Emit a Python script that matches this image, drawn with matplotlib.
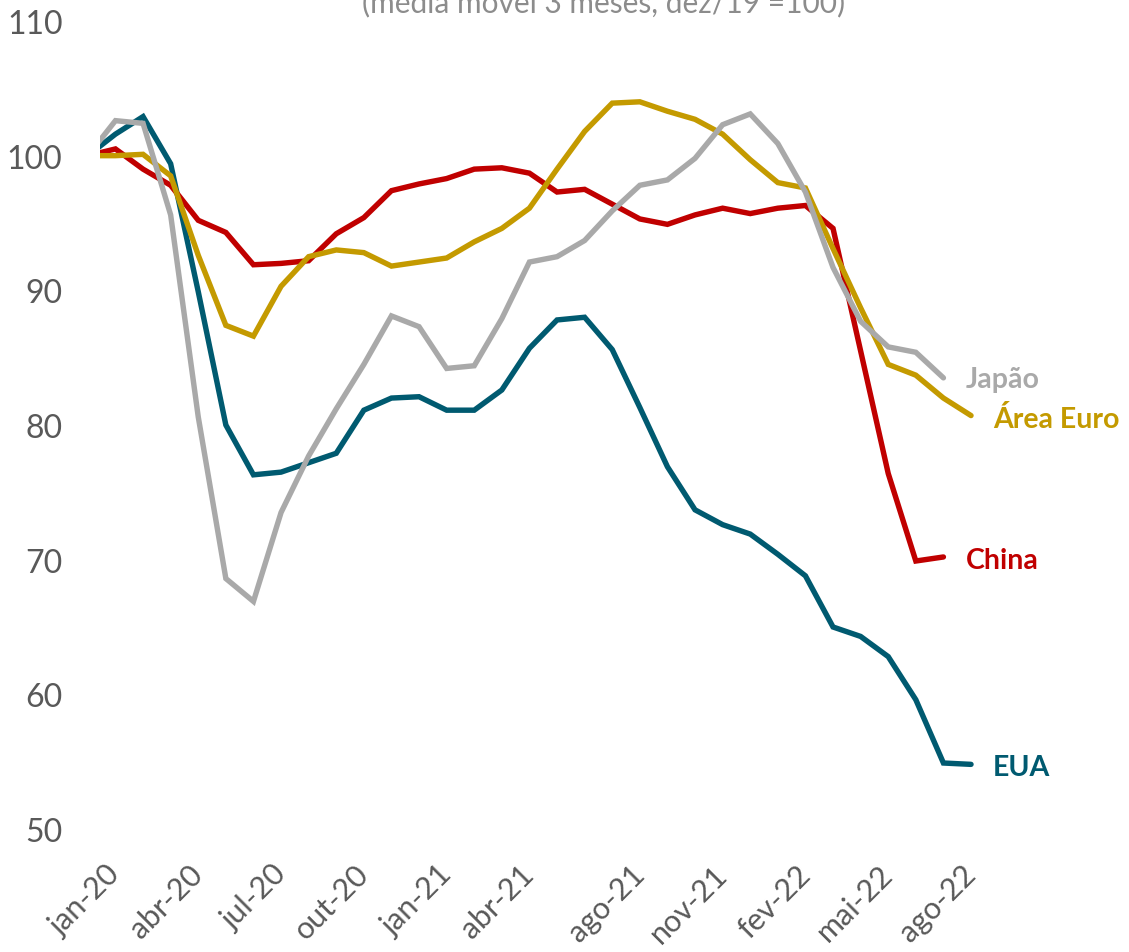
import numpy as np
import matplotlib.pyplot as plt

plt.rcParams['font.family'] = ['Lato', 'DejaVu Sans']

# months from dez-19 (index -1, base = 100) to ago-22 (index 31)
months = np.arange(-1, 32)
nan = np.nan

eua = [100.0, 101.6, 102.9, 99.4, 89.9, 80.0, 76.3, 76.5, 77.2, 77.9, 81.1,
       82.0, 82.1, 81.1, 81.1, 82.6, 85.7, 87.8, 88.0, 85.6, 81.3, 76.9,
       73.7, 72.6, 71.9, 70.4, 68.8, 65.0, 64.3, 62.8, 59.6, 54.9, 54.8]
china = [100.0, 100.5, 99.0, 97.8, 95.2, 94.3, 91.9, 92.0, 92.2, 94.2, 95.4,
         97.4, 97.9, 98.3, 99.0, 99.1, 98.7, 97.3, 97.5, 96.4, 95.3, 94.9,
         95.6, 96.1, 95.7, 96.1, 96.3, 94.6, 85.5, 76.4, 69.9, 70.2, nan]
area_euro = [100.0, 100.0, 100.1, 98.5, 92.6, 87.4, 86.6, 90.3, 92.5, 93.0, 92.8,
             91.8, 92.1, 92.4, 93.6, 94.6, 96.1, 99.0, 101.8, 103.9, 104.0, 103.3,
             102.7, 101.6, 99.7, 98.0, 97.6, 93.1, 88.7, 84.5, 83.7, 82.0, 80.7]
japao = [100.0, 102.6, 102.4, 95.6, 80.6, 68.6, 66.9, 73.5, 77.7, 81.2, 84.5,
         88.1, 87.3, 84.2, 84.4, 87.9, 92.1, 92.5, 93.7, 95.9, 97.8, 98.2,
         99.8, 102.3, 103.1, 100.9, 97.3, 91.7, 87.7, 85.8, 85.4, 83.5, nan]

tick_pos = [0, 3, 6, 9, 12, 15, 19, 22, 25, 28, 31]
tick_labels = ['jan-20', 'abr-20', 'jul-20', 'out-20', 'jan-21', 'abr-21',
               'ago-21', 'nov-21', 'fev-22', 'mai-22', 'ago-22']

series = [
    ('EUA', eua, '#005a70', (31.8, 54.6)),
    ('China', china, '#c00000', (30.8, 70.0)),
    ('Área Euro', area_euro, '#c49a00', (31.8, 80.5)),
    ('Japão', japao, '#a9a9a9', (30.8, 83.4)),
]

fig = plt.figure(figsize=(11.29, 9.53), dpi=100)
ax = fig.add_axes([100 / 1129, 123 / 953, 900 / 1129, 808 / 953])

for name, values, color, (lx, ly) in series:
    ax.plot(months, values, color=color, lw=3.9, solid_joinstyle='miter',
            solid_capstyle='round')
    ax.text(lx, ly, name, color=color, fontsize=20.5, fontweight='bold',
            ha='left', va='center', clip_on=False)

ax.set_xlim(-0.56, 32.05)
ax.set_ylim(50, 110)
ax.set_yticks(range(50, 111, 10))
ax.set_xticks(tick_pos)
ax.set_xticklabels(tick_labels, rotation=45, ha='right', va='center',
                   rotation_mode='anchor')

ax.tick_params(axis='y', length=0, pad=27, labelsize=23, labelcolor='#595959')
ax.tick_params(axis='x', length=0, pad=29, labelsize=22, labelcolor='#595959')
for s in ax.spines.values():
    s.set_visible(False)

# subtitle sits at the very top edge of the figure
fig.text(0.535, 1 - 12 / 953, '(média móvel 3 meses, dez/19 =100)',
         ha='center', va='baseline', fontsize=21.5, color='#8c8c8c')

fig.savefig('out.png', dpi=100)
